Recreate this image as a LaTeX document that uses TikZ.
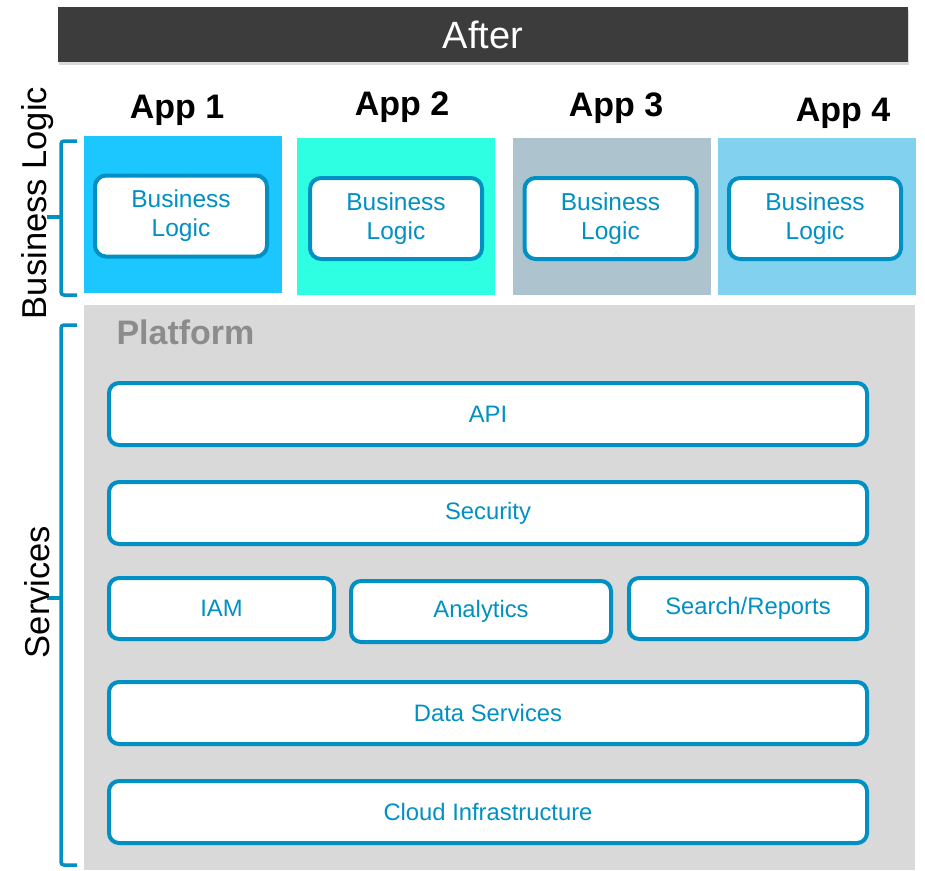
\documentclass[tikz,border=0pt]{standalone}
\usepackage{fontspec}
\setmainfont{Liberation Sans}
\usetikzlibrary{positioning,shadows}

\definecolor{hdrgray}{HTML}{3C3C3C}
\definecolor{linkblue}{HTML}{0090C4}
\definecolor{appone}{HTML}{1CC6FF}
\definecolor{apptwo}{HTML}{2EFFE2}
\definecolor{appthree}{HTML}{ADC4CE}
\definecolor{appfour}{HTML}{82D2EF}
\definecolor{platgray}{HTML}{D9D9D9}
\definecolor{plattext}{HTML}{8C8C8C}

\begin{document}
\begin{tikzpicture}[
  x=1pt,y=-1pt,
  header/.style={fill=hdrgray,text=white,minimum width=850pt,minimum height=55pt,inner sep=0pt,
    font=\fontsize{38}{42}\selectfont,drop shadow={shadow xshift=1pt,shadow yshift=-3pt,opacity=0.3}},
  apptitle/.style={font=\bfseries\fontsize{34}{38}\selectfont},
  appbox/.style={minimum width=198pt,minimum height=157pt,inner sep=0pt},
  logicbox/.style={draw=linkblue,line width=4pt,fill=white,rounded corners=11pt,
    minimum width=172pt,minimum height=81pt,align=center,text=linkblue,
    font=\fontsize{24.5}{29}\selectfont},
  svcbox/.style={draw=linkblue,line width=4pt,fill=white,rounded corners=10pt,
    minimum height=62pt,inner sep=0pt,text=linkblue,font=\fontsize{23.8}{28}\selectfont},
  sidelabel/.style={rotate=90,font=\fontsize{34.5}{38}\selectfont},
  bracket/.style={draw=linkblue,line width=3.5pt,rounded corners=3pt},
]
  \useasboundingbox (0,0) rectangle (925,870);

  % Header
  \node[header] (after) at (483,34.5) {After};

  % App columns
  \node[appbox,fill=appone]   (app1) at (183,214.5) {};
  \node[appbox,fill=apptwo]   (app2) at (396,216)   {};
  \node[appbox,fill=appthree] (app3) at (611.5,216) {};
  \node[appbox,fill=appfour]  (app4) at (817,216)   {};

  \node[apptitle] (title1) at (177,110) {App 1};
  \node[apptitle] (title2) at (402,107) {App 2};
  \node[apptitle] (title3) at (616,108) {App 3};
  \node[apptitle] (title4) at (843,113) {App 4};

  \node[logicbox] (logic1) at (181,216)   {Business\\Logic};
  \node[logicbox] (logic2) at (396,218.5) {Business\\Logic};
  \node[logicbox] (logic3) at (610.5,218.5) {Business\\Logic};
  \node[logicbox] (logic4) at (815,218.5) {Business\\Logic};

  % Platform
  \fill[platgray] (84,305) rectangle (915,870);
  \node[font=\bfseries\fontsize{34}{38}\selectfont,text=plattext,anchor=west] (platform) at (113,332) {Platform};

  \node[svcbox,minimum width=758pt] (api)      at (488,414)   {API};
  \node[svcbox,minimum width=758pt] (security) at (488,513)   {Security};
  \node[svcbox,minimum width=225pt,minimum height=61pt] (iam)       at (221.5,608.5) {IAM};
  \node[svcbox,minimum width=260pt,minimum height=61pt] (analytics) at (481,611.5)   {Analytics};
  \node[svcbox,minimum width=238pt,minimum height=61pt] (search)    at (748,608.5)   {Search/Reports};
  \node[svcbox,minimum width=758pt] (data)     at (488,713)   {Data Services};
  \node[svcbox,minimum width=758pt] (cloud)    at (488,812)   {Cloud Infrastructure};

  % Side brackets
  \draw[bracket] (77,141) -- (61,141) -- (61,295) -- (77,295);
  \draw[bracket,rounded corners=0pt] (61,217) -- (47,217);
  \draw[bracket] (77,325) -- (61,325) -- (61,865) -- (77,865);
  \draw[bracket,rounded corners=0pt] (61,598) -- (47,598);

  \node[sidelabel] (bizlabel) at (38,203) {Business Logic};
  \node[sidelabel] (svclabel) at (37,592) {Services};
\end{tikzpicture}
\end{document}
